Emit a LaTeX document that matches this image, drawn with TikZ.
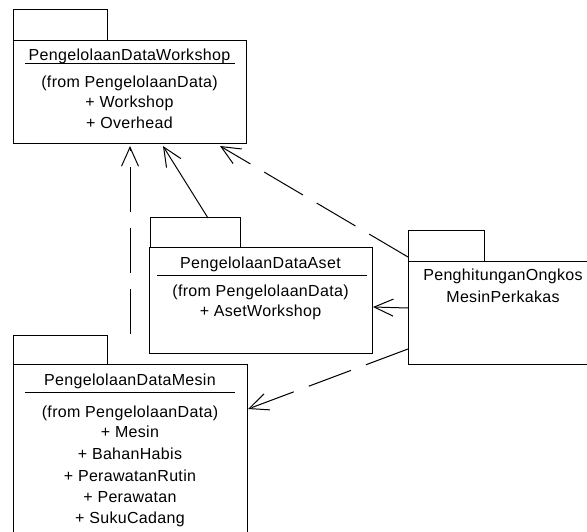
\documentclass[tikz,border=0pt]{standalone}
\usepackage{fontspec}
\setmainfont{Liberation Sans}
\newfontfamily\rosefont[LetterSpace=2]{Liberation Sans}
\usetikzlibrary{arrows.meta,calc}
\begin{document}
\begin{tikzpicture}[x=1pt,y=-1pt,
  box/.style={draw=black,line width=1pt,anchor=north west,inner sep=0pt,outer sep=0pt},
  txt/.style={anchor=base,inner sep=0pt,font=\rosefont\fontsize{16}{18}\selectfont},
  rule/.style={line width=1pt},
  dep/.style={line width=1pt,-{Straight Barb[length=19pt,width=17pt,line width=1pt]}},
  dsh/.style={dep,dash pattern=on 45pt off 16pt}]
\clip (0,0) rectangle (587,532);
\useasboundingbox (0,0) rectangle (587,532);
\fill[white] (0,0) rectangle (587,532);
% Workshop
\node[box,minimum width=94pt,minimum height=31pt] (wstab) at (13,10) {};
\node[box,fill=white,minimum width=233pt,minimum height=103pt] (ws) at (13,41) {};
\node[txt] (wst) at (129.5,60.5) {PengelolaanDataWorkshop};
\draw[rule] (25,64) -- (235,64);
\node[txt] (ws1) at (129.5,87.5) {(from PengelolaanData)};
\node[txt] (ws2) at (129.5,107.5) {+ Workshop};
\node[txt] (ws3) at (129.5,128.5) {+ Overhead};
% Aset
\node[box,minimum width=90pt,minimum height=30pt] (atab) at (150,218) {};
\node[box,fill=white,minimum width=223pt,minimum height=105pt] (as) at (149,248) {};
\node[txt] (ast) at (260.5,268.5) {PengelolaanDataAset};
\draw[rule] (157,275) -- (367,275);
\node[txt] (as1) at (260.5,296.5) {(from PengelolaanData)};
\node[txt] (as2) at (260.5,316.5) {+ AsetWorkshop};
% Mesin
\node[box,minimum width=94pt,minimum height=29pt] (mtab) at (13,335) {};
\node[box,fill=white,minimum width=234pt,minimum height=180pt] (ms) at (13,364) {};
\node[txt] (mst) at (130,385.5) {PengelolaanDataMesin};
\draw[rule] (25,392) -- (235,392);
\node[txt] (ms1) at (130,417.5) {(from PengelolaanData)};
\node[txt] (ms2) at (130,437.5) {+ Mesin};
\node[txt] (ms3) at (130,459.5) {+ BahanHabis};
\node[txt] (ms4) at (130,481.5) {+ PerawatanRutin};
\node[txt] (ms5) at (130,502.5) {+ Perawatan};
\node[txt] (ms6) at (130,523.5) {+ SukuCadang};
% Penghitungan
\node[box,minimum width=76pt,minimum height=30pt] (ptab) at (408,231) {};
\node[box,fill=white,minimum width=190pt,minimum height=103pt] (pb) at (408,261) {};
\node[txt] (pt1) at (503,280.5) {PenghitunganOngkos};
\node[txt] (pt2) at (503,302.5) {MesinPerkakas};
% connectors
\coordinate (m1) at ($(mtab.north west)+(117,-1)$);
\draw[dsh] (m1) -- ($(ws.south west)+(117,2)$);
\draw[dep] ($(atab.north west)+(58,0)$) -- ($(ws.south west)+(150,2)$);
\draw[dsh] ($(pb.north west)+(0,-4)$) -- ($(ws.south east)+(-26,2)$);
\draw[dep] ($(pb.north west)+(0,47)$) -- ($(as.north east)+(1,59)$);
\draw[dsh] ($(pb.north west)+(0,88)$) -- ($(ms.north east)+(1,45)$);
\end{tikzpicture}
\end{document}
